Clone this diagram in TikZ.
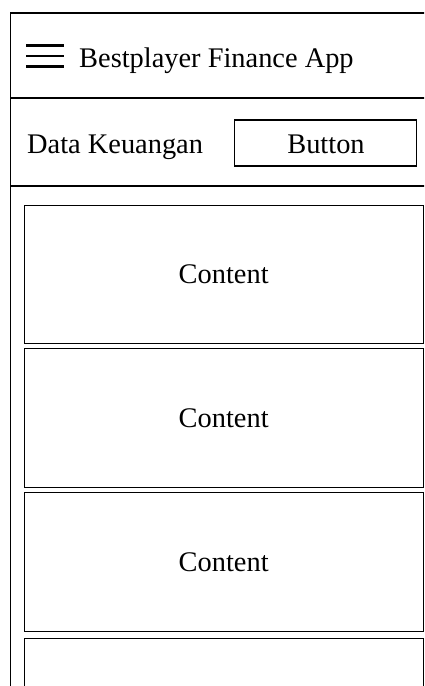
\documentclass[tikz,border=0pt]{standalone}
\usepackage{fontspec}
\setmainfont{Liberation Serif}
\begin{document}
\begin{tikzpicture}[x=1pt,y=-1pt,
  frame/.style={draw=black,line width=1.4pt},
  txt/.style={font=\fontsize{28.4}{32}\selectfont},
  card/.style={txt,draw=black,line width=1.4pt,minimum width=399pt,minimum height=138.5pt,anchor=north west,inner sep=0pt},
  label/.style={txt,inner sep=0pt},
  bar/.style={line width=2.4pt}]
\useasboundingbox (0,0) rectangle (424,686);
\clip (0,0) rectangle (424,686);
% phone screen frame, running past the right and bottom edges
\draw[frame] (10.5,13) rectangle (440,720);
\draw[frame] (10.5,98) -- (440,98);
\draw[frame] (10.5,186) -- (440,186);
% header: menu icon and title
\draw[bar] (26,45.5) -- (64,45.5);
\draw[bar] (26,56) -- (64,56);
\draw[bar] (26,66.5) -- (64,66.5);
\node[label,anchor=base west] (title) at (79,67) {Bestplayer Finance App};
% toolbar row
\node[label,anchor=base west] (data) at (27,153) {Data Keuangan};
\node[frame,minimum width=182pt,minimum height=46pt,inner sep=0pt] (btn) at (325.5,143) {};
\node[label,anchor=base] (btntext) at (326,153) {Button};
% list of content cards
\node[card] (c1) at (23.5,204.5) {Content};
\node[card] (c2) at (23.5,348) {Content};
\node[card] (c3) at (23.5,492) {Content};
\node[card] (c4) at (23.5,637.5) {};
\end{tikzpicture}
\end{document}
